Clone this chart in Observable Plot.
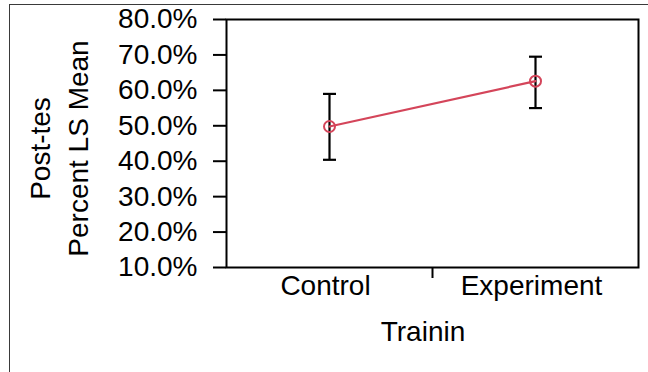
<!DOCTYPE html>
<html>
<head>
<meta charset="utf-8">
<script src="https://cdn.jsdelivr.net/npm/d3@7"></script>
<script src="https://cdn.jsdelivr.net/npm/@observablehq/plot@0.6"></script>
<style>
  html, body { margin: 0; padding: 0; background: #fff; }
  #wrap { position: relative; width: 648px; height: 372px; overflow: hidden; }
  #outer { position: absolute; left: 9px; top: 4px; right: -2px; bottom: -2px;
           border-left: 1.5px solid #3a3a3a; border-top: 1.5px solid #3a3a3a; pointer-events: none; }
</style>
</head>
<body>
<div id="wrap"><div id="outer"></div></div>
<script>
// ---- data ----
const categories = ["Control", "Experiment"];
const means = [49.8, 62.6];
const lower = [40.4, 55.0];
const upper = [59.0, 69.5];
const yTicks = [10, 20, 30, 40, 50, 60, 70, 80];
const xTitle = "Trainin";
const yTitle = "Post-tes\nPercent LS Mean";

const rows = categories.map((c, i) => ({cat: c, pos: i + 0.5, mean: means[i], lo: lower[i], hi: upper[i]}));

const red = "#d4455a";
const font = "'Liberation Sans', Arial, sans-serif";
const fs = 28;

// horizontal cap symbol for error bars
const capSymbol = {
  draw(context, size) {
    const r = Math.sqrt(size / Math.PI);
    context.moveTo(-r, 0);
    context.lineTo(r, 0);
  }
};

const chart = Plot.plot({
  width: 648,
  height: 372,
  marginLeft: 226,
  marginRight: 10,
  marginTop: 19,
  marginBottom: 105,
  style: {fontFamily: font, color: "black", background: "transparent"},
  x: {type: "linear", domain: [0, categories.length], label: null},
  y: {domain: [yTicks[0], yTicks[yTicks.length - 1]], label: null},
  marks: [
    Plot.axisY({ticks: yTicks, tickSize: 13, tickPadding: 16, strokeWidth: 2,
      tickFormat: d => d.toFixed(1) + "%", fontSize: fs, label: null}),
    Plot.axisX({ticks: rows.map(d => d.pos), tickSize: 0, tickPadding: 8, dx: -4,
      tickFormat: p => categories[Math.floor(p)], fontSize: fs, label: null}),
    Plot.axisX({ticks: d3.range(1, categories.length), tickSize: 11, strokeWidth: 2,
      tickFormat: () => "", label: null}),
    Plot.frame({stroke: "black", strokeWidth: 2}),
    Plot.ruleX(rows, {x: "pos", y1: "lo", y2: "hi", stroke: "black", strokeWidth: 2.2}),
    Plot.dot(rows, {x: "pos", y: "hi", symbol: capSymbol, r: 6.5, fill: "none", stroke: "black", strokeWidth: 2.2}),
    Plot.dot(rows, {x: "pos", y: "lo", symbol: capSymbol, r: 6.5, fill: "none", stroke: "black", strokeWidth: 2.2}),
    Plot.line(rows, {x: "pos", y: "mean", stroke: red, strokeWidth: 2.2}),
    Plot.dot(rows, {x: "pos", y: "mean", r: 5.5, fill: "none", stroke: red, strokeWidth: 2}),
    Plot.text([xTitle], {text: d => d, frameAnchor: "bottom", textAnchor: "middle", lineAnchor: "middle",
      dx: -9.5, dy: 65, fontSize: fs, fill: "black"}),
    Plot.text([yTitle], {text: d => d, frameAnchor: "left", textAnchor: "middle", lineAnchor: "middle",
      rotate: -90, dx: -169.5, dy: 5, fontSize: fs, lineHeight: 1.33, fill: "black"})
  ]
});
document.getElementById("wrap").prepend(chart);
</script>
</body>
</html>
